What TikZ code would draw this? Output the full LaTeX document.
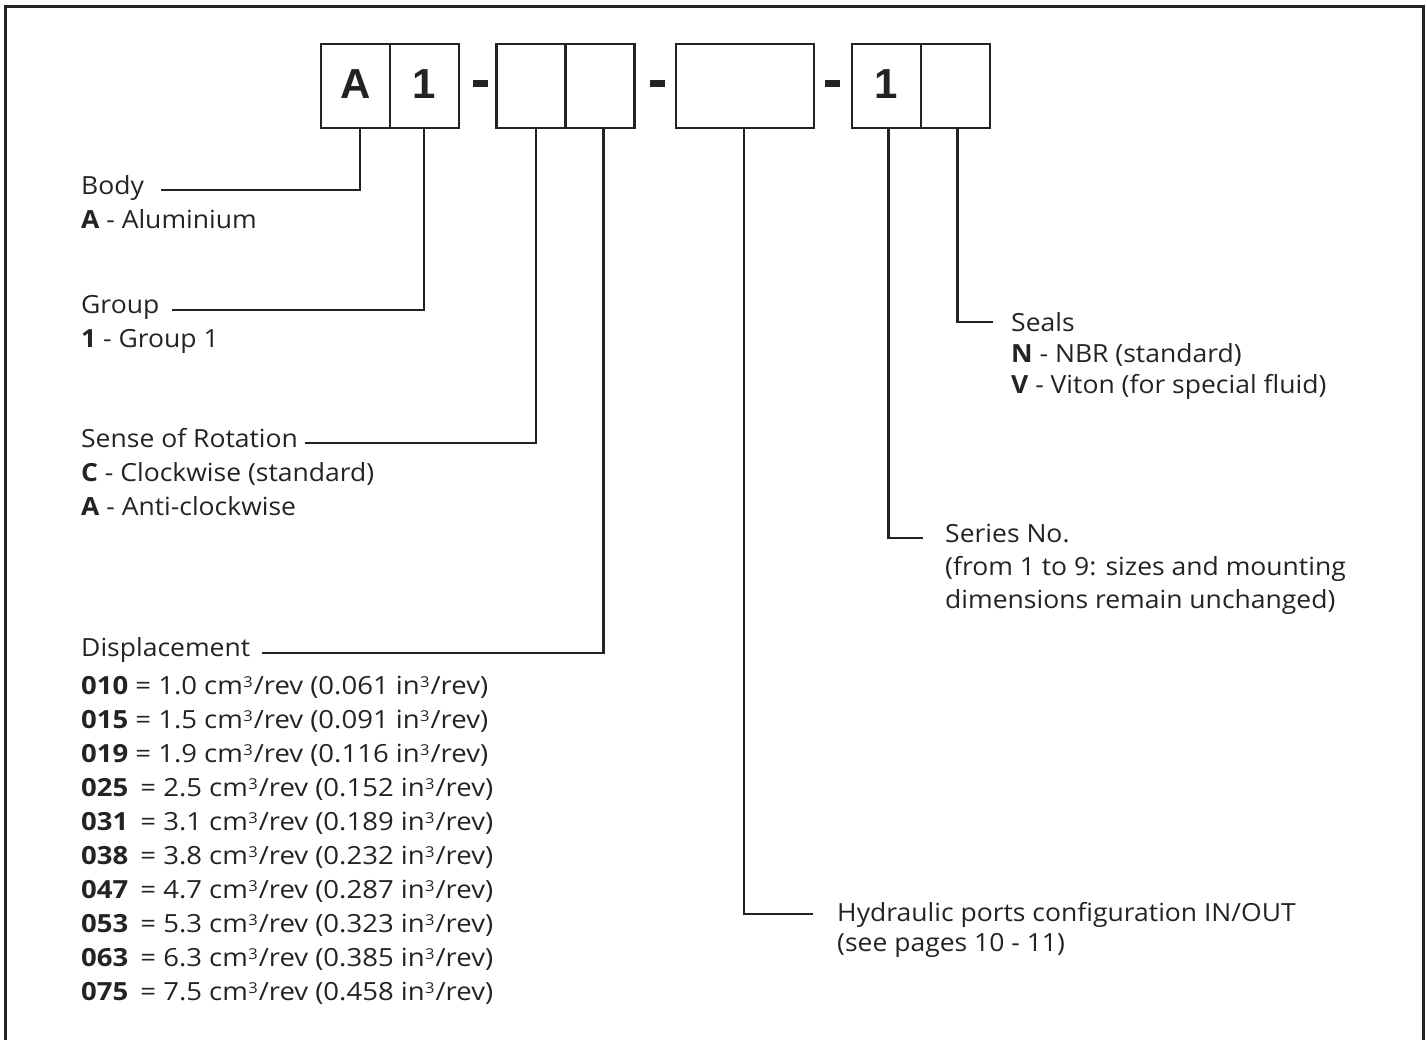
\documentclass[tikz,border=0pt]{standalone}
\usepackage{fontspec}
\setmainfont{Open Sans}[FakeStretch=1.06]
\newfontfamily\listfont{Open Sans}[FakeStretch=1.1]
\newfontfamily\boxfont{Liberation Sans}
\definecolor{inkc}{HTML}{232323}
% raised "3" for the volume units
\newcommand{\cub}{\kern0.5pt\raisebox{7pt}{\fontsize{15}{15}\selectfont 3}\kern1pt}
\begin{document}
\begin{tikzpicture}[x=1pt,y=-1pt,
  cell/.style={draw=inkc, line width=2.8pt, minimum width=69pt, minimum height=84pt,
    inner sep=0pt, text height=30pt, text depth=6pt, text=inkc,
    font=\boxfont\bfseries\fontsize{42}{42}\selectfont},
  dashbar/.style={fill=inkc, minimum width=15pt, minimum height=7pt, inner sep=0pt},
  conn/.style={draw=inkc, line width=2.4pt},
  lbl/.style={anchor=base west, inner sep=0pt, text=inkc, font=\fontsize{25}{30}\selectfont},
  row/.style={lbl, font=\listfont\fontsize{25}{30}\selectfont},
]
\useasboundingbox (0,0) rectangle (1427,1039);

% outer frame, open at the bottom
\draw[inkc, line width=3pt] (5,1045) -- (5,6) -- (1423,6) -- (1423,1045);

% code boxes
\node[cell] (b1) at (355.5,86) {A};
\node[cell] (b2) at (424.5,86) {1};
\node[dashbar] (d1) at (480,83.5) {};
\node[cell] (b3) at (531,86) {};
\node[cell] (b4) at (600,86) {};
\node[dashbar] (d2) at (657,83.5) {};
\node[cell, minimum width=138pt] (b5) at (745,86) {};
\node[dashbar] (d3) at (832,83.5) {};
\node[cell] (b6) at (886.5,86) {1};
\node[cell] (b7) at (955.5,86) {};

% left column descriptions
\node[lbl] (tBody) at (81,194) {Body};
\node[lbl] (tAlu)  at (81,228) {\textbf{A} - Aluminium};

\node[lbl] (tGroup) at (81,313) {Group};
\node[lbl] (tGr1)   at (81,347) {\textbf{1} - Group 1};

\node[lbl] (tSense) at (81,447) {Sense of Rotation};
\node[lbl] (tCw)    at (81,481) {\textbf{C} - Clockwise (standard)};
\node[lbl] (tAcw)   at (81,515) {\textbf{A} - Anti-clockwise};

\node[lbl] (tDisp) at (81,656) {Displacement};
\node[row] (r1)  at (81,694) {\textbf{010} = 1.0 cm\cub/rev (0.061 in\cub/rev)};
\node[row] (r2)  at (81,728) {\textbf{015} = 1.5 cm\cub/rev (0.091 in\cub/rev)};
\node[row] (r3)  at (81,762) {\textbf{019} = 1.9 cm\cub/rev (0.116 in\cub/rev)};
\node[row] (r4)  at (81,796) {\textbf{025}\hspace{5pt} = 2.5 cm\cub/rev (0.152 in\cub/rev)};
\node[row] (r5)  at (81,830) {\textbf{031}\hspace{5pt} = 3.1 cm\cub/rev (0.189 in\cub/rev)};
\node[row] (r6)  at (81,864) {\textbf{038}\hspace{5pt} = 3.8 cm\cub/rev (0.232 in\cub/rev)};
\node[row] (r7)  at (81,898) {\textbf{047}\hspace{5pt} = 4.7 cm\cub/rev (0.287 in\cub/rev)};
\node[row] (r8)  at (81,932) {\textbf{053}\hspace{5pt} = 5.3 cm\cub/rev (0.323 in\cub/rev)};
\node[row] (r9)  at (81,966) {\textbf{063}\hspace{5pt} = 6.3 cm\cub/rev (0.385 in\cub/rev)};
\node[row] (r10) at (81,1000) {\textbf{075}\hspace{5pt} = 7.5 cm\cub/rev (0.458 in\cub/rev)};

% right column descriptions
\node[lbl] (tSeals) at (1011,331) {Seals};
\node[lbl] (tNbr)   at (1011,362) {\textbf{N} - NBR (standard)};
\node[lbl] (tVit)   at (1011,393) {\textbf{V} - Viton (for special fluid)};

\node[lbl] (tSer)  at (945,542) {Series No.};
\node[lbl] (tSer2) at (945,575) {(from 1 to 9: sizes and mounting};
\node[lbl] (tSer3) at (945,608) {dimensions remain unchanged)};

\node[lbl] (tHyd)  at (837,921) {Hydraulic ports configuration IN/OUT};
\node[lbl] (tHyd2) at (837,951) {(see pages 10 - 11)};

% free ends of the leader lines
\coordinate (eBody)  at (161,190);
\coordinate (eGroup) at (172,310);
\coordinate (eSense) at (305,443);
\coordinate (eDisp)  at (262,653);
\coordinate (eHyd)   at (813,914);
\coordinate (eSer)   at (923,538);
\coordinate (eSeals) at (993,322);

% leader lines
\draw[conn] ([xshift=4.5pt]b1.south) |- (eBody);
\draw[conn] ([xshift=-0.5pt]b2.south) |- (eGroup);
\draw[conn] ([xshift=5pt]b3.south) |- (eSense);
\draw[conn] ([xshift=3.5pt]b4.south) |- (eDisp);
\draw[conn] ([xshift=-1pt]b5.south) |- (eHyd);
\draw[conn] ([xshift=2pt]b6.south) |- (eSer);
\draw[conn] ([xshift=2pt]b7.south) |- (eSeals);
\end{tikzpicture}
\end{document}
